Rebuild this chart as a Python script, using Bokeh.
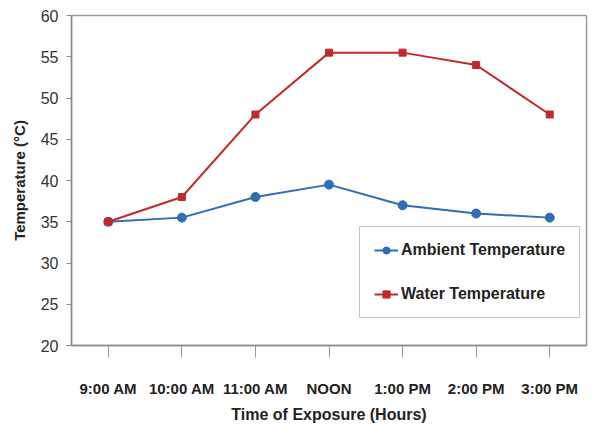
from bokeh.plotting import figure
from bokeh.models import FactorRange, Range1d, FixedTicker, Legend, LegendItem
from bokeh.embed import file_html
from bokeh.resources import INLINE

times = ["9:00 AM", "10:00 AM", "11:00 AM", "NOON", "1:00 PM", "2:00 PM", "3:00 PM"]
ambient = [35, 35.5, 38, 39.5, 37, 36, 35.5]
water = [35, 38, 48, 55.5, 55.5, 54, 48]
y_ticks = [20, 25, 30, 35, 40, 45, 50, 55, 60]

BLUE = "#2f6db5"
RED = "#c12a2a"
FONT = "Liberation Sans"

p = figure(width=588, height=425, x_range=FactorRange(*times), y_range=Range1d(20, 60),
           output_backend="svg", toolbar_location=None,
           min_border_left=71, min_border_top=15, min_border_right=2, min_border_bottom=80)
p.background_fill_color = "white"
p.border_fill_color = "white"
p.outline_line_color = "#9a9a9a"
p.outline_line_width = 1.5
p.xgrid.visible = False
p.ygrid.visible = False

# y axis
p.yaxis.ticker = FixedTicker(ticks=y_ticks)
p.yaxis.minor_tick_line_color = None
p.yaxis.major_tick_in = 0
p.yaxis.major_tick_out = 5
p.yaxis.major_tick_line_color = "#8a8a8a"
p.yaxis.axis_line_color = "#8a8a8a"
p.yaxis.axis_line_width = 1.5
p.yaxis.major_label_text_font = FONT
p.yaxis.major_label_text_font_size = "16px"
p.yaxis.major_label_text_color = "#333333"
p.yaxis.major_label_standoff = 8
p.yaxis.axis_label = "Temperature (°C)"
p.yaxis.axis_label_text_font = FONT
p.yaxis.axis_label_text_font_style = "bold"
p.yaxis.axis_label_text_font_size = "15px"
p.yaxis.axis_label_text_color = "#222222"
p.yaxis.axis_label_standoff = 10

# x axis
p.xaxis.major_tick_in = 0
p.xaxis.major_tick_out = 12
p.xaxis.major_tick_line_color = "#9a9a9a"
p.xaxis.axis_line_color = "#8a8a8a"
p.xaxis.axis_line_width = 1.5
p.xaxis.major_label_text_font = FONT
p.xaxis.major_label_text_font_style = "bold"
p.xaxis.major_label_text_font_size = "15px"
p.xaxis.major_label_text_color = "#222222"
p.xaxis.major_label_standoff = 22
p.xaxis.axis_label = "Time of Exposure (Hours)"
p.xaxis.axis_label_text_font = FONT
p.xaxis.axis_label_text_font_style = "bold"
p.xaxis.axis_label_text_font_size = "16px"
p.xaxis.axis_label_text_color = "#222222"
p.xaxis.axis_label_standoff = 6

la = p.line(times, ambient, line_color=BLUE, line_width=2)
ma = p.scatter(times, ambient, marker="circle", size=9, fill_color=BLUE, line_color=BLUE)
lw = p.line(times, water, line_color=RED, line_width=2)
mw = p.scatter(times, water, marker="square", size=7, fill_color=RED, line_color=RED)

legend = Legend(items=[LegendItem(label="Ambient Temperature", renderers=[la, ma]),
                       LegendItem(label="Water Temperature", renderers=[lw, mw])],
                location=(288, 27))
legend.label_text_font = FONT
legend.label_text_font_style = "bold"
legend.label_text_font_size = "16px"
legend.label_text_color = "#222222"
legend.border_line_color = "#8a8a8a"
legend.border_line_width = 1.5
legend.padding = 14
legend.margin = 0
legend.spacing = 26
legend.label_height = 18
legend.glyph_height = 18
legend.glyph_width = 24
legend.label_standoff = 3
legend.background_fill_alpha = 1
p.add_layout(legend)

open("out.html", "w").write(file_html(p, INLINE))
